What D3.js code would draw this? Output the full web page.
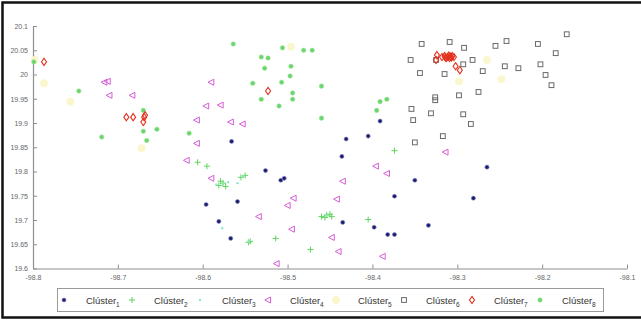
<!DOCTYPE html>
<html><head><meta charset="utf-8">
<script src="https://cdn.jsdelivr.net/npm/d3@7"></script>
<style>body{margin:0;background:#fff}svg{display:block}</style>
</head><body>
<script>
const xTicks = [-98.8,-98.7,-98.6,-98.5,-98.4,-98.3,-98.2,-98.1];
const yTicks = [19.6,19.65,19.7,19.75,19.8,19.85,19.9,19.95,20,20.05,20.1];
const clusterNames = ["1","2","3","4","5","6","7","8"];

const c1x = [-98.566,-98.391,-98.431,-98.405,-98.436,-98.526,-98.508,-98.504,-98.350,-98.265,-98.559,-98.596,-98.374,-98.281,-98.581,-98.435,-98.398,-98.567,-98.382,-98.374,-98.334];
const c1y = [19.862,19.904,19.867,19.873,19.831,19.802,19.782,19.786,19.782,19.809,19.738,19.732,19.749,19.745,19.697,19.695,19.685,19.662,19.670,19.670,19.689];

const c2x = [-98.606,-98.595,-98.374,-98.514,-98.473,-98.405,-98.460,-98.454,-98.450,-98.448,-98.456,-98.555,-98.550,-98.581,-98.576,-98.573,-98.579,-98.546,-98.544];
const c2y = [19.819,19.811,19.843,19.662,19.639,19.701,19.707,19.710,19.712,19.707,19.705,19.788,19.792,19.771,19.776,19.769,19.780,19.654,19.656];

const c3x = [-98.577,-98.576,-98.570,-98.454,-98.559,-98.546,-98.552,-98.584];
const c3y = [19.683,19.774,19.778,19.709,19.776,19.656,19.790,19.773];

const c4x = [-98.716,-98.712,-98.710,-98.683,-98.590,-98.596,-98.607,-98.579,-98.567,-98.553,-98.607,-98.619,-98.590,-98.493,-98.500,-98.534,-98.495,-98.513,-98.396,-98.383,-98.435,-98.442,-98.448,-98.440,-98.388,-98.314];
const c4y = [19.984,19.986,19.957,19.957,19.984,19.935,19.906,19.937,19.902,19.898,19.858,19.823,19.786,19.745,19.730,19.707,19.681,19.610,19.811,19.796,19.780,19.743,19.664,19.635,19.625,19.840];

const c5x = [-98.798,-98.787,-98.756,-98.672,-98.496,-98.312,-98.298,-98.265,-98.248];
const c5y = [20.030,19.982,19.944,19.848,20.057,20.038,19.986,20.030,19.990];

const c6x = [-98.342,-98.309,-98.292,-98.255,-98.242,-98.205,-98.171,-98.184,-98.202,-98.196,-98.189,-98.355,-98.325,-98.282,-98.293,-98.344,-98.315,-98.270,-98.244,-98.228,-98.298,-98.275,-98.326,-98.326,-98.354,-98.331,-98.293,-98.352,-98.284,-98.317,-98.350];
const c6y = [20.063,20.067,20.055,20.059,20.069,20.063,20.083,20.044,20.021,19.999,19.978,20.030,20.030,20.030,20.021,20.003,20.001,20.007,20.017,20.013,19.957,19.964,19.953,19.947,19.929,19.920,19.918,19.906,19.898,19.873,19.860];

const c7x = [-98.787,-98.690,-98.682,-98.668,-98.669,-98.670,-98.523,-98.324,-98.325,-98.318,-98.315,-98.311,-98.309,-98.306,-98.304,-98.313,-98.308,-98.310,-98.314,-98.307,-98.302,-98.297];
const c7y = [20.026,19.912,19.912,19.916,19.912,19.902,19.966,20.040,20.030,20.036,20.038,20.036,20.034,20.038,20.036,20.034,20.037,20.039,20.035,20.035,20.017,20.009];

const c8x = [-98.799,-98.746,-98.719,-98.670,-98.670,-98.666,-98.654,-98.616,-98.564,-98.506,-98.481,-98.471,-98.531,-98.523,-98.527,-98.496,-98.541,-98.507,-98.497,-98.460,-98.494,-98.494,-98.531,-98.510,-98.460,-98.391,-98.383,-98.395];
const c8y = [20.026,19.966,19.871,19.926,19.883,19.864,19.887,19.879,20.063,20.055,20.050,20.050,20.036,20.034,20.013,20.017,19.982,19.984,19.997,19.976,19.962,19.949,19.949,19.935,19.910,19.944,19.949,19.926];

const W = 641, H = 322;
const svg = d3.select("body").append("svg").attr("width", W).attr("height", H);
svg.append("rect").attr("width", W).attr("height", H).attr("fill", "#fff");

const x = d3.scaleLinear().domain([-98.8, -98.1]).range([33, 627]);
const y = d3.scaleLinear().domain([19.6, 20.1]).range([268.5, 26]);
const fmt = v => String(+v.toFixed(2));

const gx = svg.append("g").attr("transform", "translate(0,268.5)")
  .call(d3.axisBottom(x).tickValues(xTicks).tickFormat(fmt).tickSizeInner(-4).tickSizeOuter(0).tickPadding(7));
const gy = svg.append("g").attr("transform", "translate(33,0)")
  .call(d3.axisLeft(y).tickValues(yTicks).tickFormat(fmt).tickSizeInner(-4).tickSizeOuter(0).tickPadding(5));
[gx, gy].forEach(g => {
  g.select(".domain").attr("stroke", "#8f8f8f").attr("stroke-width", 1.2);
  g.selectAll(".tick line").attr("stroke", "#8f8f8f");
  g.selectAll(".tick text").attr("fill", "#666").attr("font-size", "7px").attr("font-family", "Liberation Sans, Arial, sans-serif");
});

const styles = [
  {shape: "dot", color: "#1c1c72"},
  {shape: "plus", color: "#5fd65f"},
  {shape: "point", color: "#8fe8c8"},
  {shape: "tri", color: "#d65cd6"},
  {shape: "bigdot", color: "#faf7cf"},
  {shape: "square", color: "#6a6a6a"},
  {shape: "diamond", color: "#e4301f"},
  {shape: "gdot", color: "#6bd46b"}
];
function drawMarker(g, shape, color, cx, cy) {
  switch (shape) {
    case "dot":
      g.append("circle").attr("cx", cx).attr("cy", cy).attr("r", 2.1).attr("fill", color).attr("stroke", "#9a9ac4").attr("stroke-width", 0.6); break;
    case "plus":
      g.append("path").attr("d", `M${cx-3},${cy}H${cx+3}M${cx},${cy-3}V${cy+3}`).attr("stroke", color).attr("stroke-width", 1).attr("fill", "none"); break;
    case "point":
      g.append("circle").attr("cx", cx).attr("cy", cy).attr("r", 1.2).attr("fill", color); break;
    case "tri":
      g.append("path").attr("d", `M${cx-3.2},${cy}L${cx+2.6},${cy-3}L${cx+2.6},${cy+3}Z`).attr("stroke", color).attr("stroke-width", 1).attr("fill", "none"); break;
    case "bigdot":
      g.append("circle").attr("cx", cx).attr("cy", cy).attr("r", 4).attr("fill", color); break;
    case "square":
      g.append("rect").attr("x", cx-2.4).attr("y", cy-2.4).attr("width", 4.8).attr("height", 4.8).attr("stroke", color).attr("stroke-width", 1).attr("fill", "none"); break;
    case "diamond":
      g.append("path").attr("d", `M${cx},${cy-3.6}L${cx+2.5},${cy}L${cx},${cy+3.6}L${cx-2.5},${cy}Z`).attr("stroke", color).attr("stroke-width", 1.1).attr("fill", "none"); break;
    case "gdot":
      g.append("circle").attr("cx", cx).attr("cy", cy).attr("r", 2.3).attr("fill", color).attr("stroke", "#aeeaae").attr("stroke-width", 0.6); break;
  }
}

const allX = [c1x, c2x, c3x, c4x, c5x, c6x, c7x, c8x];
const allY = [c1y, c2y, c3y, c4y, c5y, c6y, c7y, c8y];
const order = [4, 0, 1, 2, 3, 5, 7, 6];
const plot = svg.append("g");
order.forEach(i => {
  const g = plot.append("g");
  allX[i].forEach((vx, j) => drawMarker(g, styles[i].shape, styles[i].color, x(vx), y(allY[i][j])));
});

const leg = svg.append("g");
leg.append("rect").attr("x", 57.5).attr("y", 288.5).attr("width", 546).attr("height", 23)
  .attr("fill", "#fff").attr("stroke", "#9a9a9a").attr("stroke-width", 1);
clusterNames.forEach((n, i) => {
  const tx = 86 + i * 68;
  drawMarker(leg, styles[i].shape, styles[i].color, tx - 22, 300);
  const t = leg.append("text").attr("x", tx).attr("y", 303.5)
    .attr("font-family", "Liberation Sans, Arial, sans-serif").attr("font-size", "9.5px").attr("fill", "#333");
  t.append("tspan").text("Clúster");
  t.append("tspan").attr("font-size", "6.5px").attr("dy", 3).text(n);
});

svg.append("path").attr("d", "M645,2.5H2.5V317.5H645").attr("fill", "none").attr("stroke", "#111").attr("stroke-width", 2.5);
</script>
</body></html>
